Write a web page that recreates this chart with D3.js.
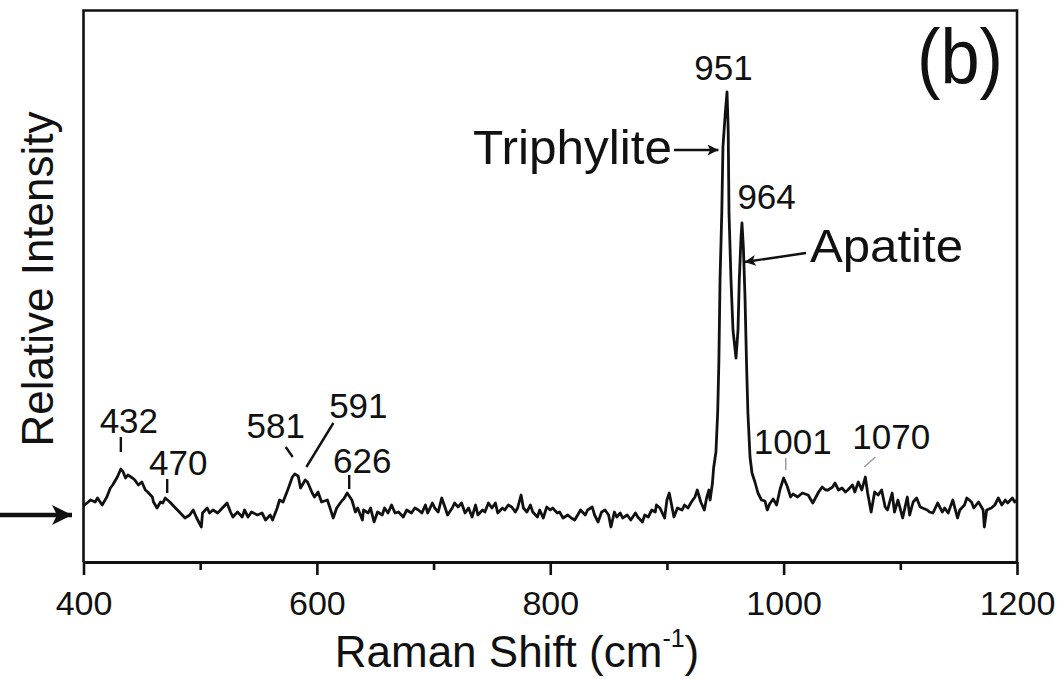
<!DOCTYPE html>
<html>
<head>
<meta charset="utf-8">
<script src="https://cdn.jsdelivr.net/npm/d3@7"></script>
<style>
  html, body { margin: 0; padding: 0; background: #fff; }
  svg { display: block; }
  svg text { font-family: "Liberation Sans", Arial, Helvetica, sans-serif; }
</style>
</head>
<body>
<svg id="chart" width="1059" height="679"></svg>
<script>
// ---- data ----
const ramanShift = [
  400,401,406,410,412,416,420,423,425,429,432,434,436,438,442,444,447,450,453,455,459,460,463,466,468,470,474,478,483,487,491,494,497,501,502,506,508,511,515,519,523,526,528,532,536,538,541,544,549,553,556,560,562,566,568,571,575,579,581,584,586,590,592,596,598,601,604,609,611,614,617,620,622,623,626,630,633,635,639,640,644,646,649,652,656,658,661,664,667,670,674,677,681,684,687,690,693,695,699,701,704,707,710,712,716,718,721,724,727,730,733,736,738,742,744,747,750,753,755,759,761,764,767,770,772,775,777,780,783,785,789,791,794,797,800,802,806,808,811,815,818,821,826,830,832,836,838,841,844,847,850,852,855,857,860,862,866,869,873,875,879,881,884,887,890,891,894,898,900,902,904,906,909,913,915,918,921,924,926,929,932,934,936,937,939,940,942,943.5,944.5,945.5,947,948,950,951.5,952.5,953.2,954.9,956.6,959.2,960.9,962,963.5,964.3,965.5,966.9,968.2,969.4,971.2,972.9,975.4,978,981,984,986,988,991,994,997,1000,1003,1006,1008,1012,1016,1021,1025,1030,1033,1036,1038,1042,1044,1047,1050,1053,1055,1059,1061,1064,1067,1070,1072,1075,1078,1081,1084,1087,1089,1093,1095,1098,1102,1106,1108,1111,1114,1117,1119,1123,1125,1128,1132,1136,1138,1141,1145,1149,1151,1155,1157,1161,1163,1167,1171,1172,1174,1178,1181,1184,1187,1190,1192,1196,1198,1200
];
const intensity = [
  56,57,62,60,64,57,65,74,77,85,93,90,84,87,84,82,77,80,72,70,65,60,54,60,59,64,60,55,49,44,47,52,44,35,49,54,49,52,49,54,59,50,45,50,45,52,45,50,47,49,42,47,42,54,62,60,72,85,88,86,74,82,80,69,65,70,60,62,55,44,54,59,62,63,69,62,50,54,42,52,49,54,40,50,47,54,49,57,49,50,45,52,49,54,52,49,57,49,59,54,50,64,54,47,54,59,55,59,49,54,45,57,47,52,50,59,54,59,49,54,52,57,55,50,54,67,54,50,57,50,45,52,44,55,52,54,49,50,44,47,44,42,52,47,52,55,47,40,50,52,47,35,50,45,49,44,47,42,49,45,40,47,45,52,50,57,54,44,62,69,57,45,54,52,57,54,60,65,72,60,52,64,72,62,79,94,110,150,200,282,349,415,449,470,432,349,282,232,204,232,282,325,339,315,265,199,149,105,89,80,69,62,61,52,58,63,57,73,84,76,65,68,65,69,67,59,70,75,72,72,75,79,72,74,70,72,77,70,80,72,85,69,50,70,67,72,55,52,69,50,62,44,65,47,60,64,55,54,52,50,49,59,50,54,49,62,44,52,57,64,60,54,60,52,35,52,54,57,64,57,62,59,64,60,62
];
const majorTicks = [400, 600, 800, 1000, 1200];
const minorTicks = [500, 700, 900, 1100];
const peakLabels = ["432", "470", "581", "591", "626", "951", "964", "1001", "1070"];
const peakShifts = [432, 470, 581, 591, 626, 951, 964, 1001, 1070];

// ---- layout ----
const W = 1059, H = 679;
const L = 83.5, R = 1017, T = 10.5, B = 562;
const FONT = "'Liberation Sans', Arial, Helvetica, sans-serif";
const svg = d3.select("#chart");
svg.append("rect").attr("width", W).attr("height", H).attr("fill", "#fff");

const x = d3.scaleLinear().domain([400, 1200]).range([L, R]);
const y = d3.scaleLinear().domain([0, 551.5]).range([B, T]);

// spectrum
const pts = ramanShift.map((v, i) => [v, intensity[i]]);
svg.append("path")
  .datum(pts)
  .attr("fill", "none")
  .attr("stroke", "#111")
  .attr("stroke-width", 2.8)
  .attr("stroke-linejoin", "round")
  .attr("d", d3.line().x(d => x(d[0])).y(d => y(d[1])));

// frame
svg.append("path")
  .attr("d", `M${L},${B} L${L},${T} L${R},${T} L${R},${B}`)
  .attr("fill", "none").attr("stroke", "#111").attr("stroke-width", 2.6);

// x axis
const axMajor = svg.append("g").attr("transform", `translate(0,${B})`)
  .call(d3.axisBottom(x).tickValues(majorTicks).tickSize(13).tickSizeOuter(0).tickFormat(d3.format("d")));
axMajor.attr("font-family", null);
axMajor.select(".domain").attr("stroke", "#111").attr("stroke-width", 3);
axMajor.selectAll(".tick line").attr("stroke", "#111").attr("stroke-width", 2.6);
axMajor.selectAll(".tick text")
  .attr("y", 53).attr("dy", 0)
  .attr("fill", "#111")
  .style("font-size", "34px")
  .style("font-family", FONT);

const axMinor = svg.append("g").attr("transform", `translate(0,${B})`)
  .call(d3.axisBottom(x).tickValues(minorTicks).tickSize(8).tickSizeOuter(0).tickFormat(""));
axMinor.select(".domain").remove();
axMinor.selectAll(".tick line").attr("stroke", "#111").attr("stroke-width", 2.6);

// axis titles
const xt = svg.append("text")
  .attr("x", 517).attr("y", 667)
  .attr("text-anchor", "middle")
  .style("font-family", FONT)
  .style("font-size", "44px").attr("fill", "#111");
xt.append("tspan").text("Raman Shift (cm");
xt.append("tspan").text("-1").style("font-size", "25px").attr("dy", -20);
xt.append("tspan").text(")").attr("dy", 20);

svg.append("text")
  .attr("transform", "translate(53,279) rotate(-90)")
  .attr("text-anchor", "middle")
  .style("font-family", FONT)
  .style("font-size", "44px").attr("fill", "#111")
  .text("Relative Intensity");

// (b)
svg.append("text")
  .attr("x", 917).attr("y", 84)
  .attr("textLength", 86).attr("lengthAdjust", "spacingAndGlyphs")
  .style("font-family", FONT)
  .style("font-size", "78px").attr("fill", "#111")
  .text("(b)");

// arrow markers
const defs = svg.append("defs");
defs.append("marker").attr("id", "ahS")
  .attr("viewBox", "0 0 10 10").attr("refX", 10).attr("refY", 5)
  .attr("markerWidth", 12).attr("markerHeight", 11).attr("markerUnits", "userSpaceOnUse")
  .attr("orient", "auto")
  .append("path").attr("d", "M0,0 L10,5 L0,10 L2.5,5 Z").attr("fill", "#111");
defs.append("marker").attr("id", "ahL")
  .attr("viewBox", "0 0 10 10").attr("refX", 10).attr("refY", 5)
  .attr("markerWidth", 24).attr("markerHeight", 20).attr("markerUnits", "userSpaceOnUse")
  .attr("orient", "auto")
  .append("path").attr("d", "M0,0 L10,5 L0,10 L2.5,5 Z").attr("fill", "#111");

// baseline arrow on the left
svg.append("line")
  .attr("x1", 0).attr("y1", 515).attr("x2", 72).attr("y2", 515)
  .attr("stroke", "#111").attr("stroke-width", 4.5)
  .attr("marker-end", "url(#ahL)");

// Triphylite
svg.append("text")
  .attr("x", 473).attr("y", 164)
  .attr("textLength", 199).attr("lengthAdjust", "spacingAndGlyphs")
  .style("font-family", FONT)
  .style("font-size", "48px").attr("fill", "#111")
  .text("Triphylite");
svg.append("line")
  .attr("x1", 674).attr("y1", 150).attr("x2", x(951) - 8).attr("y2", 150)
  .attr("stroke", "#111").attr("stroke-width", 2.4)
  .attr("marker-end", "url(#ahS)");

// Apatite
svg.append("text")
  .attr("x", 810).attr("y", 262)
  .attr("textLength", 153).attr("lengthAdjust", "spacingAndGlyphs")
  .style("font-family", FONT)
  .style("font-size", "47px").attr("fill", "#111")
  .text("Apatite");
svg.append("line")
  .attr("x1", 806).attr("y1", 253).attr("x2", x(964) + 3).attr("y2", 262)
  .attr("stroke", "#111").attr("stroke-width", 2.4)
  .attr("marker-end", "url(#ahS)");

// peak labels (layout offsets only)
const labelLayout = [
  { dx: 8,   base: 433 },
  { dx: 13,  base: 475 },
  { dx: -19, base: 438 },
  { dx: 52,  base: 418 },
  { dx: 15,  base: 473 },
  { dx: -3,  base: 80 },
  { dx: 25,  base: 209 },
  { dx: 8,   base: 454 },
  { dx: 26,  base: 449 }
];
peakLabels.forEach((lab, i) => {
  svg.append("text")
    .attr("x", x(peakShifts[i]) + labelLayout[i].dx)
    .attr("y", labelLayout[i].base)
    .attr("text-anchor", "middle")
    .style("font-family", FONT)
    .style("font-size", "35px").attr("fill", "#111")
    .text(lab);
});

// peak marker lines
const markers = [
  { v: 432, dx1: 0, y1: 437, dx2: 0, y2: 452, c: "#111" },
  { v: 470, dx1: 2, y1: 479, dx2: 2, y2: 493, c: "#111" },
  { v: 581, dx1: -9, y1: 447, dx2: -2, y2: 457, c: "#111" },
  { v: 591, dx1: 27, y1: 423, dx2: 0, y2: 467, c: "#111" },
  { v: 626, dx1: 2, y1: 475, dx2: 2, y2: 489, c: "#111" },
  { v: 1001, dx1: 1, y1: 458, dx2: 1, y2: 470, c: "#9a9a9a" },
  { v: 1070, dx1: 10, y1: 457, dx2: -1, y2: 467, c: "#9a9a9a" }
];
markers.forEach(m => {
  svg.append("line")
    .attr("x1", x(m.v) + m.dx1).attr("y1", m.y1)
    .attr("x2", x(m.v) + m.dx2).attr("y2", m.y2)
    .attr("stroke", m.c).attr("stroke-width", m.c === "#111" ? 2.4 : 1.5);
});
</script>
</body>
</html>
